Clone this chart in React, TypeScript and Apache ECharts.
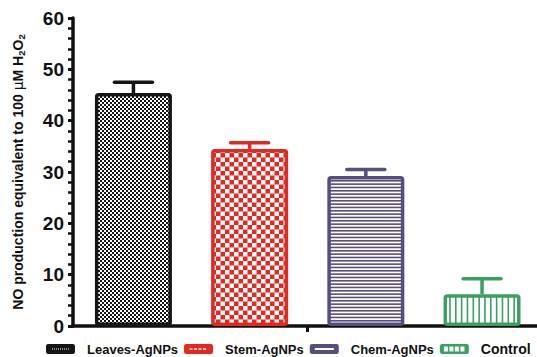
import React, { useEffect, useRef } from "react";
import * as echarts from "echarts";

// Treatment groups, mean NO production and SEM
const categories = ["Leaves-AgNPs", "Stem-AgNPs", "Chem-AgNPs", "Control"];
const means = [45.4, 34.5, 29.2, 6.2];
const errors = [2.1, 1.2, 1.3, 3.0];
const yTicks = [0, 10, 20, 30, 40, 50, 60];
const xTickAt = [1.5];

const colors = ["#151515", "#e3291f", "#594d7d", "#3b9f62"];
const FONT = "'Liberation Sans', Arial, sans-serif";

type Draw = (ctx: CanvasRenderingContext2D) => void;

// Draw a tile at 2x and hand it back with its 1x display size
function tile(w: number, h: number, draw: Draw) {
  const c = document.createElement("canvas");
  c.width = w * 2;
  c.height = h * 2;
  const ctx = c.getContext("2d")!;
  ctx.scale(2, 2);
  draw(ctx);
  return c;
}

function patternFor(i: number) {
  const col = colors[i];
  if (i === 0) {
    const w = 4, h = 4;
    const c = tile(w, h, (ctx) => {
      ctx.fillStyle = "#ffffff";
      ctx.fillRect(0, 0, w, h);
      ctx.fillStyle = col;
      ctx.fillRect(0, 0, 2, 2);
      ctx.fillRect(2, 2, 2, 2);
    });
    return { image: c, repeat: "repeat", imageWidth: w, imageHeight: h };
  }
  if (i === 1) {
    const w = 9, h = 9;
    const c = tile(w, h, (ctx) => {
      ctx.fillStyle = col;
      ctx.fillRect(0, 0, w, h);
      ctx.fillStyle = "#ffffff";
      ctx.fillRect(0, 0, 4.5, 4.5);
      ctx.fillRect(4.5, 4.5, 4.5, 4.5);
    });
    return { image: c, repeat: "repeat", imageWidth: w, imageHeight: h };
  }
  if (i === 2) {
    const w = 4, h = 10;
    const c = tile(w, h, (ctx) => {
      ctx.fillStyle = "#ffffff";
      ctx.fillRect(0, 0, w, h);
      ctx.fillStyle = col;
      for (let k = 0; k < 3; k++) ctx.fillRect(0, (k * h) / 3, w, 1.6);
    });
    return { image: c, repeat: "repeat", imageWidth: w, imageHeight: h };
  }
  const w = 35, h = 4;
  const c = tile(w, h, (ctx) => {
    ctx.fillStyle = "#ffffff";
    ctx.fillRect(0, 0, w, h);
    ctx.fillStyle = col;
    for (let k = 0; k < 6; k++) ctx.fillRect((k * w) / 6, 0, 1.6, h);
  });
  return { image: c, repeat: "repeat", imageWidth: w, imageHeight: h };
}

function roundRect(ctx: CanvasRenderingContext2D, x: number, y: number, w: number, h: number, r: number) {
  ctx.beginPath();
  ctx.moveTo(x + r, y);
  ctx.lineTo(x + w - r, y);
  ctx.quadraticCurveTo(x + w, y, x + w, y + r);
  ctx.lineTo(x + w, y + h - r);
  ctx.quadraticCurveTo(x + w, y + h, x + w - r, y + h);
  ctx.lineTo(x + r, y + h);
  ctx.quadraticCurveTo(x, y + h, x, y + h - r);
  ctx.lineTo(x, y + r);
  ctx.quadraticCurveTo(x, y, x + r, y);
  ctx.closePath();
}

// Small swatches for the legend: solid key with a white motif inside
function legendIcon(i: number) {
  const w = 29, h = 10;
  const c = tile(w, h, (ctx) => {
    ctx.fillStyle = colors[i];
    roundRect(ctx, 0, 0, w, h, 2.5);
    ctx.fill();
    ctx.fillStyle = "#ffffff";
    if (i === 0) {
      for (let x = 6; x < 23; x += 2) ctx.fillRect(x, 4.5, 1, 1);
    } else if (i === 1) {
      for (let x = 5.5; x < 23; x += 4.5) ctx.fillRect(x, 4.3, 3, 1.5);
    } else if (i === 2) {
      ctx.fillRect(5, 4, 19, 2);
    } else {
      for (let k = 0; k < 4; k++) ctx.fillRect(4 + k * 5.5, 2.5, 4, 5);
    }
  });
  return "image://" + c.toDataURL();
}

export default function App() {
  const ref = useRef<HTMLDivElement>(null);

  useEffect(() => {
    if (!ref.current) return;
    const chart = echarts.init(ref.current, null, { renderer: "svg" });

    const barSeries = categories.map((name, i) => ({
      type: "bar",
      name,
      data: [[i, means[i]]],
      barWidth: 77,
      barGap: "-100%",
      z: 2,
      itemStyle: {
        color: patternFor(i),
        borderColor: colors[i],
        borderWidth: 3.5,
        borderRadius: 2,
      },
    }));

    const errorSeries = {
      type: "custom",
      name: "sem",
      z: 3,
      data: means.map((m, i) => [i, m, errors[i]]),
      encode: { x: 0, y: 1 },
      renderItem: (params: any, api: any) => {
        const x = api.value(0);
        const m = api.value(1);
        const e = api.value(2);
        const top = api.coord([x, m]);
        const cap = api.coord([x, m + e]);
        const c = colors[params.dataIndex];
        return {
          type: "group",
          children: [
            {
              type: "line",
              shape: { x1: top[0], y1: top[1], x2: cap[0], y2: cap[1] },
              style: { stroke: c, lineWidth: 3.5 },
            },
            {
              type: "line",
              shape: { x1: cap[0] - 19, y1: cap[1], x2: cap[0] + 19, y2: cap[1] },
              style: { stroke: c, lineWidth: 3.5, lineCap: "round" },
            },
          ],
        };
      },
    };

    chart.setOption({
      animation: false,
      backgroundColor: "#ffffff",
      grid: { left: 73, right: 0, top: 18, bottom: 31 },
      xAxis: {
        type: "value",
        min: -0.52,
        max: 3.473,
        axisLine: { show: true, onZero: false, lineStyle: { color: "#111", width: 3.5 } },
        axisTick: { show: true, customValues: xTickAt, length: 6, lineStyle: { color: "#111", width: 3 } },
        axisLabel: { show: false },
        splitLine: { show: false },
      },
      yAxis: {
        type: "value",
        min: yTicks[0],
        max: yTicks[yTicks.length - 1],
        interval: yTicks[1] - yTicks[0],
        axisLine: { show: true, onZero: false, lineStyle: { color: "#111", width: 3.5 } },
        axisTick: { show: true, length: 5, lineStyle: { color: "#111", width: 3 } },
        minorTick: { show: true, splitNumber: 5, length: 5, lineStyle: { color: "#111", width: 2.5 } },
        splitLine: { show: false },
        minorSplitLine: { show: false },
        axisLabel: { fontSize: 19, fontWeight: "bold", color: "#111", fontFamily: FONT, margin: 9 },
        name: "{b|NO production equivalent to 100 }{m|\u03bc}{b|M H}{s|2}{b|O}{s|2}",
        nameLocation: "middle",
        nameGap: 47,
        nameTextStyle: {
          rich: {
            b: { fontSize: 14, fontWeight: "bold", fontFamily: FONT, color: "#111", lineHeight: 17 },
            m: { fontSize: 14, fontWeight: "normal", fontFamily: "'DejaVu Sans', sans-serif", color: "#111", lineHeight: 17 },
            s: { fontSize: 9.5, fontWeight: "bold", fontFamily: FONT, color: "#111", lineHeight: 9, verticalAlign: "bottom" },
          },
        },
      },
      legend: {
        left: 46,
        top: 342,
        padding: 0,
        width: 491,
        itemWidth: 29,
        itemHeight: 10,
        itemGap: 6,
        data: categories.map((name, i) => ({ name, icon: legendIcon(i) })),
        formatter: (name: string) => (name === "Control" ? `{big|${name}}` : name),
        textStyle: {
          fontFamily: FONT,
          fontWeight: "bold",
          fontSize: 13,
          color: "#111",
          padding: [0, 0, 0, 7],
          rich: {
            big: { fontFamily: FONT, fontWeight: "bold", fontSize: 14, color: "#111" },
          },
        },
      },
      series: [...barSeries, errorSeries],
    });

    return () => chart.dispose();
  }, []);

  return (
    <div
      ref={ref}
      style={{ position: "absolute", left: 0, top: 0, width: 537, height: 357, background: "#fff" }}
    />
  );
}
